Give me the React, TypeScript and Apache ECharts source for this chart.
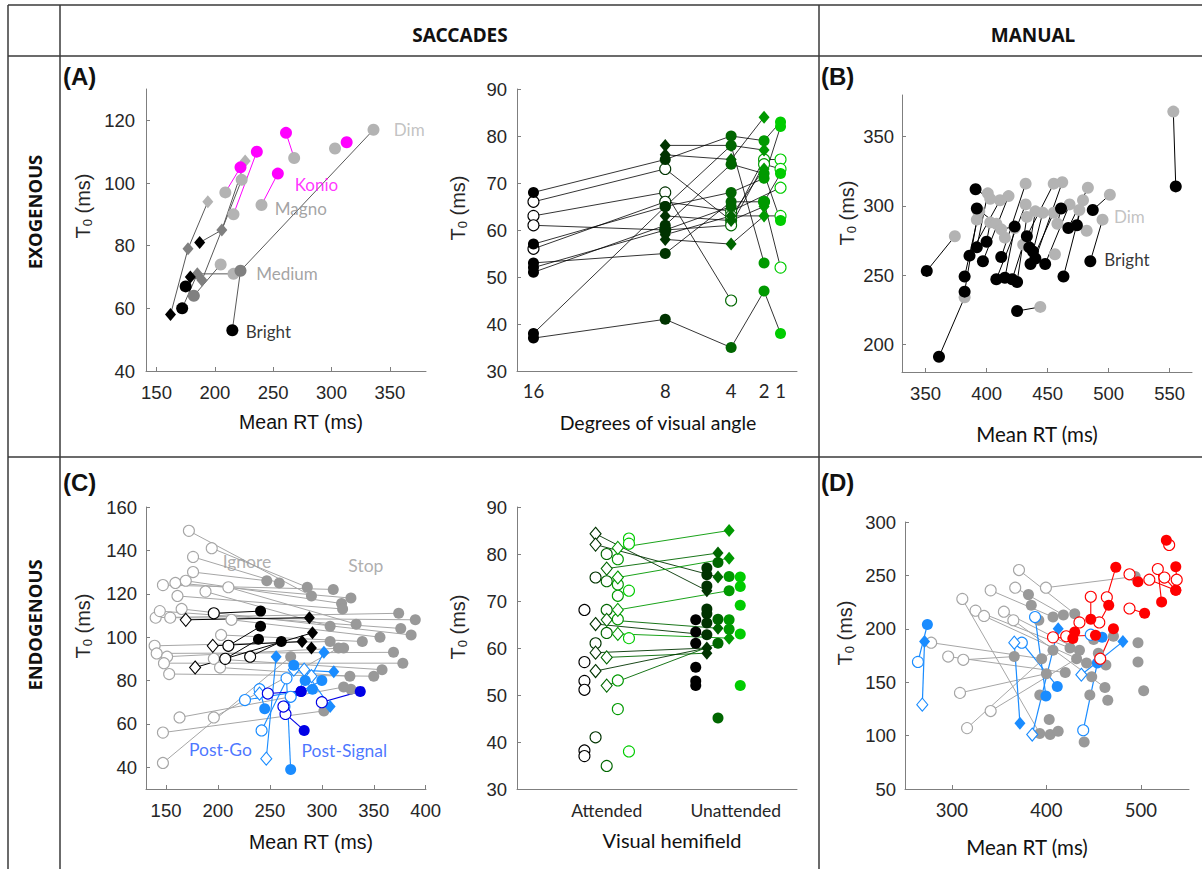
import React, { useEffect, useRef } from 'react';
import * as echarts from 'echarts';

// ---------------- Panel A (saccades, exogenous): Mean RT vs T0 ----------------
const A_brightCirc = [[215, 53], [172, 60], [175, 67]];
const A_brightDiam = [[162, 58], [179, 70], [187, 81]];
const A_mediumCirc = [[222, 72], [182, 64]];
const A_mediumDiam = [[177, 79], [206, 85], [185, 71], [189, 69]];
const A_dimCirc = [[209, 97], [216, 90], [223, 101], [205, 74], [216, 71], [240, 93], [268, 108], [303, 111], [336, 117]];
const A_dimDiam = [[194, 94], [226, 107]];
const A_konio = [[222, 105], [236, 110], [254, 103], [261, 116], [313, 113]];
const A_paths = [
  [[162, 58], [177, 79], [194, 94]],
  [[187, 81], [206, 85], [226, 107]],
  [[179, 70], [189, 69], [223, 101]],
  [[215, 53], [222, 72], [336, 117]],
  [[175, 67], [182, 64], [205, 74]],
  [[172, 60], [185, 71], [216, 71], [222, 72]],
];
const A_konioPaths = [
  [[222, 105], [209, 97]],
  [[236, 110], [216, 90]],
  [[254, 103], [240, 93]],
  [[261, 116], [268, 108]],
];

// ---------------- Panel A2: T0 by degrees of visual angle ----------------
const DEG = [16, 8, 4, 2, 1];
const A2_filled = [
  [68, 75, 80, 79, 83],
  [57, 65, 68, 71, 82],
  [53, 55, 66, 66, 72],
  [51, 61, 74, 72, 62],
  [38, 65, 78, 53, null],
  [37, 41, 35, 47, 38],
  [52, 60, 65, null, null],
];
const A2_open = [
  [66, 73, 62, 75, 75],
  [63, 68, 45, null, null],
  [61, 60, 61, 74, 73],
  [56, 66, 64, null, 69],
  [null, null, null, 66, 52],
  [null, null, 63, null, 63],
];
const A2_diam = [
  [null, 78, 78, 77, null],
  [null, 76, 75, 84, null],
  [null, 58, 57, 63, null],
  [null, 63, 62, 65, null],
  [null, 59, 63, 73, null],
];

// ---------------- Panel B (manual, exogenous) ----------------
const B_bright = [[555, 314], [351, 253], [361, 191], [382, 238], [382, 249], [392, 270], [386, 264], [397, 260], [400, 274], [412, 263], [408, 247], [415, 248], [421, 247], [425, 245], [433, 278], [435, 270], [438, 267], [440, 262], [436, 258], [448, 258], [463, 249], [467, 284], [474, 286], [487, 297], [485, 260], [425, 224], [461, 298], [391, 312], [392, 298], [423, 285]];
const B_dim = [[553, 368], [374, 278], [382, 234], [392, 290], [394, 296], [401, 309], [411, 304], [418, 307], [403, 288], [432, 316], [432, 301], [423, 284], [430, 272], [433, 292], [455, 316], [440, 296], [446, 295], [462, 317], [455, 295], [468, 301], [479, 304], [483, 313], [476, 297], [501, 308], [495, 290], [444, 227], [458, 287], [403, 305], [408, 287], [412, 283]];
const B_dimExtra = [[482, 282], [456, 265], [415, 277], [393, 296]];

// ---------------- Panel C (saccades, endogenous) ----------------
const C_ignore = [[172, 149], [194, 141], [176, 137], [176, 130], [147, 124], [159, 125], [169, 126], [161, 119], [188, 121], [210, 123], [140, 109], [154, 109], [144, 112], [165, 113], [213, 108], [203, 101], [139, 96], [141, 92.5], [151, 91], [148, 88], [153, 83], [196, 90], [202, 86], [163, 63], [196, 63], [147, 56], [147, 42]];
const C_stop = [[290, 119], [286, 123], [259, 125], [247, 126], [311, 122], [328, 118], [319, 115.5], [320, 113], [308, 105], [333, 106], [374, 111], [390, 108], [376, 104], [386, 101], [356, 100], [339, 98], [308, 98], [369, 93], [321, 95], [378, 88], [350, 82], [358, 85], [327, 82], [321, 77], [316, 95], [302, 66], [270, 91]];
const C_stopExtra = [[328, 76]];
const C_blackOpenCirc = [[196, 111], [210, 96], [207, 90], [231, 91]];
const C_blackFillCirc = [[241, 112], [241, 105], [239, 99], [261, 98]];
const C_blackOpenDiam = [[169, 108], [195, 96], [178, 86]];
const C_blackFillDiam = [[288, 109], [281, 98], [291, 102]];
const C_blackFillDiamExtra = [[290, 95]];
const C_goOpenCirc = [[226, 71], [240, 76], [242, 57], [266, 81], [264, 68], [270, 72.5]];
const C_goFillCirc = [[291, 76], [245, 67], [273, 87], [270, 39], [284, 80], [300, 80]];
const C_goOpenDiam = [[246.5, 44], [290, 82], [273, 85], [283, 85]];
const C_goFillDiam = [[256, 91], [302, 93], [311.5, 84], [308, 68]];
const C_goOpenDiamExtra = [[240, 74]];
const C_sigOpen = [[248, 74], [265, 64.6], [300, 70], [263, 68]];
const C_sigFill = [[280, 75], [283, 57], [337, 75], [280, 75]];

// ---------------- Panel C2: attended vs unattended hemifield ----------------
const C2_attOpenCirc = [
  [68.1, 57, 53, 51.1, 38.2, 37],
  [75, 61, 41],
  [80, 74.2, 68.1, 63.2, 34.9],
  [78.9, 73.5, 71.1, 66.1, 53.1, 47],
  [83.3, 82.2, 72.2, 62.1, 38],
];
const C2_attOpenDiam = [[], [84.3, 82, 65.1, 59, 55.1], [76.9, 66, 58, 52], [81.3, 75, 68.1, 63], []];
const C2_unFillCirc = [
  [66, 63.4, 61, 55.9, 53, 52],
  [77, 75.6, 73.2, 68.3, 67.3, 65.3, 62.8],
  [78.2, 66.1, 61, 45.1],
  [75.2, 72.2, 66, 64],
  [75.1, 73.1, 69.1, 63, 52],
];
const C2_unFillDiam = [[], [72.2, 60, 58.9], [80.2, 75.1, 64.2], [85, 79.1, 62.1], []];
// [attended column, attended T0, unattended column, unattended T0]
const C2_links = [
  [1, 84.3, 1, 72.2], [1, 82, 2, 75.1], [2, 76.9, 2, 80.2], [3, 81.3, 3, 85], [3, 75, 3, 79.1],
  [3, 68.1, 3, 72.2], [1, 65.1, 1, 62.8], [2, 66, 2, 64.2], [3, 63, 3, 62.1], [1, 59, 1, 60],
  [2, 58, 1, 58.9], [1, 55.1, 1, 60], [2, 52, 2, 61],
];

// ---------------- Panel D (manual, endogenous) ----------------
const D_grayOpen = [[371, 255], [367, 238.5], [341, 236], [399.5, 238.5], [311, 228], [325, 217], [334, 212], [355, 216], [365, 208], [278, 187], [296, 174], [312, 171], [308.5, 140], [341, 123], [316, 107]];
const D_grayFill = [[430, 214], [418, 213], [407, 211], [494, 249], [393, 102], [425, 182], [442.5, 168], [435, 180], [462, 145], [395, 172], [420, 159], [366, 174], [400, 158], [432, 172], [407, 180]];
const D_grayExtra = [[381, 232], [384, 222], [392, 208], [471, 193], [450, 190], [455, 177], [463, 166], [448, 155], [465, 133], [446, 138], [497, 187], [497, 169], [503, 142], [393, 138], [403, 115], [404, 101], [412.5, 104], [440, 94]];
const D_blueOpenCirc = [[264, 169], [388, 211], [374, 187], [439, 105], [447, 194.5]];
const D_blueFillCirc = [[274, 204], [399.5, 137], [411.5, 146], [454, 168], [459, 192]];
const D_blueOpenDiam = [[268.6, 129], [366, 187], [385, 101], [437, 157]];
const D_blueFillDiam = [[271, 188], [372, 111.5], [412.5, 200], [481, 188]];
const D_redOpen = [[447, 230], [435, 206], [456, 206], [407, 192], [488, 251], [464, 229.5], [518, 256], [488, 219], [457, 172], [530, 278.5], [538, 246], [525, 248], [509, 246], [421, 193]];
const D_redFill = [[447, 209], [430, 197], [466, 222], [428, 191], [497, 244], [473.5, 257.6], [522, 225], [504, 214.5], [471, 200], [527, 283], [537, 258], [537, 236], [537, 236], [452, 194]];

// ---------------- styling ----------------
const SANS = '"Liberation Sans", Arial, sans-serif';
const CAL = 'Lato, "Noto Sans", sans-serif';
const HEAD = '"Noto Sans", "Liberation Sans", sans-serif';
const GREENS = ['#000000', '#003300', '#006600', '#009900', '#00cc00'];
const AXC = '#7f7f7f';
const TXT = '#262626';

function xAx(g: number, min: number, max: number, ticks: number[], extra: any = {}) {
  return {
    type: 'value', gridIndex: g, min, max, inverse: !!extra.inverse,
    axisLine: { show: true, onZero: false, lineStyle: { color: AXC, width: 1 } },
    axisTick: { show: extra.noTick ? false : true, inside: true, length: 4, customValues: ticks, lineStyle: { color: AXC } },
    splitLine: { show: false },
    axisLabel: {
      customValues: ticks, color: TXT, fontFamily: extra.font || SANS, fontSize: extra.size || 18.5,
      margin: extra.margin || 10, formatter: extra.formatter,
    },
  };
}
function yAx(g: number, min: number, max: number, ticks: number[], extra: any = {}) {
  return {
    type: 'value', gridIndex: g, min, max,
    axisLine: { show: true, onZero: false, lineStyle: { color: AXC, width: 1 } },
    axisTick: { show: true, inside: true, length: 4, customValues: ticks, lineStyle: { color: AXC } },
    splitLine: { show: false },
    axisLabel: { customValues: ticks, color: TXT, fontFamily: SANS, fontSize: 18.5, margin: extra.margin || 9 },
  };
}
function sc(g: number, data: any[], symbol: string, fill: string, edge: string, size: any = 11) {
  return {
    type: 'scatter', xAxisIndex: g, yAxisIndex: g, data, symbol, symbolSize: size, silent: true,
    itemStyle: { color: fill, borderColor: edge, borderWidth: fill === edge ? 0 : 1.1, opacity: 1 },
  };
}
function ln(g: number, paths: number[][][], color: string, width = 1) {
  return {
    type: 'lines', coordinateSystem: 'cartesian2d', xAxisIndex: g, yAxisIndex: g, polyline: true, silent: true,
    data: paths.map((c) => ({ coords: c })), lineStyle: { color, width, opacity: 1, curveness: 0 },
  };
}
function pairs(a: number[][], b: number[][]) {
  return a.map((p, i) => [p, b[i]]);
}
function txt(g: number, x: number, y: number, text: string, color: string, size = 17) {
  return {
    type: 'scatter', xAxisIndex: g, yAxisIndex: g, symbolSize: 1, silent: true,
    itemStyle: { color: 'rgba(0,0,0,0)' }, data: [[x, y]],
    label: { show: true, position: 'right', distance: 0, formatter: text, color, fontFamily: CAL, fontSize: size },
  };
}
const DIA = [11, 13];

function buildOption() {
  const series: any[] = [];
  // ---- A ----
  series.push(ln(0, A_paths, '#595959', 1));
  series.push(ln(0, A_konioPaths, '#ff00ff', 1));
  series.push(sc(0, A_dimCirc, 'circle', '#b3b3b3', '#b3b3b3', 12));
  series.push(sc(0, A_dimDiam, 'diamond', '#b3b3b3', '#b3b3b3', DIA));
  series.push(sc(0, A_mediumCirc, 'circle', '#808080', '#808080', 12));
  series.push(sc(0, A_mediumDiam, 'diamond', '#808080', '#808080', DIA));
  series.push(sc(0, A_konio, 'circle', '#ff00ff', '#ff00ff', 12));
  series.push(sc(0, A_brightCirc, 'circle', '#000000', '#000000', 12));
  series.push(sc(0, A_brightDiam, 'diamond', '#000000', '#000000', DIA));
  series.push(txt(0, 353, 117, 'Dim', '#b3b3b3'));
  series.push(txt(0, 268, 99.5, 'Konio', '#ff00ff'));
  series.push(txt(0, 251, 92, 'Magno', '#8c8c8c'));
  series.push(txt(0, 235, 71, 'Medium', '#8c8c8c'));
  series.push(txt(0, 226, 52.6, 'Bright', '#000000'));

  // ---- A2 ----
  const rowPts = (r: (number | null)[]) => r.map((v, i) => (v == null ? null : [DEG[i], v])).filter(Boolean) as number[][];
  series.push(ln(1, [...A2_filled, ...A2_open, ...A2_diam].map(rowPts).filter((p) => p.length > 1), '#000000', 0.8));
  for (let i = 0; i < 5; i++) {
    const col = (rows: (number | null)[][]) => rows.filter((r) => r[i] != null).map((r) => [DEG[i], r[i]]);
    series.push(sc(1, col(A2_open), 'circle', '#ffffff', GREENS[i], 11));
    series.push(sc(1, col(A2_filled), 'circle', GREENS[i], GREENS[i], 11));
    series.push(sc(1, col(A2_diam), 'diamond', GREENS[i], GREENS[i], DIA));
  }

  // ---- B ----
  series.push(ln(2, pairs(B_bright, B_dim), '#000000', 1));
  series.push(sc(2, [...B_dim, ...B_dimExtra], 'circle', '#b3b3b3', '#b3b3b3', 12));
  series.push(sc(2, B_bright, 'circle', '#000000', '#000000', 12));
  series.push(txt(2, 504, 292, 'Dim', '#b3b3b3'));
  series.push(txt(2, 496, 261, 'Bright', '#000000'));

  // ---- C ----
  series.push(txt(3, 204, 134.7, 'Ignore', '#999999', 17.5));
  series.push(txt(3, 325, 133, 'Stop', '#999999', 17.5));
  series.push(ln(3, pairs(C_ignore, C_stop), '#a6a6a6', 1));
  series.push(sc(3, C_ignore, 'circle', '#ffffff', '#a6a6a6', 11));
  series.push(sc(3, [...C_stop, ...C_stopExtra], 'circle', '#999999', '#999999', 11));
  series.push(ln(3, [...pairs(C_blackOpenCirc, C_blackFillCirc), ...pairs(C_blackOpenDiam, C_blackFillDiam)], '#000000', 1));
  series.push(sc(3, C_blackOpenCirc, 'circle', '#ffffff', '#000000', 11));
  series.push(sc(3, C_blackOpenDiam, 'diamond', '#ffffff', '#000000', DIA));
  series.push(sc(3, C_blackFillCirc, 'circle', '#000000', '#000000', 11));
  series.push(sc(3, [...C_blackFillDiam, ...C_blackFillDiamExtra], 'diamond', '#000000', '#000000', DIA));
  series.push(ln(3, [...pairs(C_goOpenCirc, C_goFillCirc), ...pairs(C_goOpenDiam, C_goFillDiam)], '#1a8cff', 1.1));
  series.push(sc(3, C_goOpenCirc, 'circle', '#ffffff', '#1a8cff', 11));
  series.push(sc(3, [...C_goOpenDiam, ...C_goOpenDiamExtra], 'diamond', '#ffffff', '#1a8cff', DIA));
  series.push(sc(3, C_goFillCirc, 'circle', '#1a8cff', '#1a8cff', 11));
  series.push(sc(3, C_goFillDiam, 'diamond', '#1a8cff', '#1a8cff', DIA));
  series.push(ln(3, pairs(C_sigOpen, C_sigFill), '#0000e6', 1.1));
  series.push(sc(3, C_sigOpen, 'circle', '#ffffff', '#0000e6', 11));
  series.push(sc(3, C_sigFill, 'circle', '#0000e6', '#0000e6', 11));
  series.push(txt(3, 171.6, 48, 'Post-Go', '#1a53ff', 17.5));
  series.push(txt(3, 280, 47.7, 'Post-Signal', '#1a53ff', 17.5));

  // ---- C2 ----
  const ax = (base: number, i: number) => +(base + (i - 2) * 0.1).toFixed(2);
  series.push(...C2_links.map((l) =>
    ln(4, [[[ax(1, l[0]), l[1]], [ax(2, l[2]), l[3]]]], GREENS[l[0]], 0.9)));
  for (let i = 0; i < 5; i++) {
    series.push(sc(4, C2_attOpenCirc[i].map((v) => [ax(1, i), v]), 'circle', '#ffffff', GREENS[i], 11));
    series.push(sc(4, C2_attOpenDiam[i].map((v) => [ax(1, i), v]), 'diamond', '#ffffff', GREENS[i], DIA));
    series.push(sc(4, C2_unFillCirc[i].map((v) => [ax(2, i), v]), 'circle', GREENS[i], GREENS[i], 11));
    series.push(sc(4, C2_unFillDiam[i].map((v) => [ax(2, i), v]), 'diamond', GREENS[i], GREENS[i], DIA));
  }

  // ---- D ----
  series.push(ln(5, pairs(D_grayOpen, D_grayFill), '#a6a6a6', 1));
  series.push(sc(5, D_grayOpen, 'circle', '#ffffff', '#a6a6a6', 11));
  series.push(sc(5, [...D_grayFill, ...D_grayExtra], 'circle', '#999999', '#999999', 11));
  series.push(ln(5, [...pairs(D_blueOpenCirc, D_blueFillCirc), ...pairs(D_blueOpenDiam, D_blueFillDiam)], '#1a8cff', 1.2));
  series.push(sc(5, D_blueOpenCirc, 'circle', '#ffffff', '#1a8cff', 11));
  series.push(sc(5, D_blueOpenDiam, 'diamond', '#ffffff', '#1a8cff', DIA));
  series.push(sc(5, D_blueFillCirc, 'circle', '#1a8cff', '#1a8cff', 11));
  series.push(sc(5, D_blueFillDiam, 'diamond', '#1a8cff', '#1a8cff', DIA));
  series.push(ln(5, pairs(D_redOpen, D_redFill), '#ff0000', 1.1));
  series.push(sc(5, D_redOpen, 'circle', '#ffffff', '#ff0000', 11));
  series.push(sc(5, D_redFill, 'circle', '#ff0000', '#ff0000', 11));

  const grid = (left: number, top: number, width: number, height: number) => ({
    left, top, width, height, containLabel: false, outerBoundsMode: 'none',
  });

  const tl = (x1: number, y1: number, x2: number, y2: number) => ({
    type: 'line', shape: { x1, y1, x2, y2 }, style: { stroke: '#3a3a3a', lineWidth: 1.5 }, silent: true,
  });
  const t = (x: number, y: number, text: string, font: string, size: number, weight = 'normal', rot = 0, align = 'center') => ({
    type: 'text', x, y, rotation: rot, silent: true,
    style: { text, fill: '#111111', fontFamily: font, fontSize: size, fontWeight: weight, textAlign: align, textVerticalAlign: 'middle' },
  });
  const ty = (x: number, y: number) => ({
    type: 'text', x, y, rotation: Math.PI / 2, silent: true,
    style: {
      text: 'T{s|0} (ms)', fill: TXT, fontFamily: SANS, fontSize: 20, textAlign: 'center', textVerticalAlign: 'middle',
      rich: { s: { fontFamily: SANS, fontSize: 13, fill: TXT, padding: [9, 0, 0, 0] } },
    },
  });

  return {
    animation: false,
    backgroundColor: '#ffffff',
    grid: [
      grid(146, 89, 280, 282),
      grid(517, 89, 280, 282),
      grid(902, 95, 290, 277),
      grid(146, 507, 280, 282),
      grid(517, 507, 280, 282),
      grid(905, 522, 284, 267),
    ],
    xAxis: [
      xAx(0, 141, 381, [150, 200, 250, 300, 350], { margin: 12 }),
      xAx(1, 0, 17, [16, 8, 4, 2, 1], { inverse: true, noTick: true, font: CAL, size: 18.5, margin: 10 }),
      xAx(2, 330.7, 568.3, [350, 400, 450, 500, 550], { margin: 12 }),
      xAx(3, 130.7, 400.3, [150, 200, 250, 300, 350, 400], { margin: 12 }),
      xAx(4, 0.194, 2.71, [1, 2.16], {
        noTick: true, font: CAL, size: 17.5, margin: 12,
        formatter: (v: number) => (v < 1.5 ? 'Attended' : 'Unattended'),
      }),
      xAx(5, 250.3, 551, [300, 400, 500], { font: CAL, size: 18.5, margin: 11 }),
    ],
    yAxis: [
      yAx(0, 40, 130, [40, 60, 80, 100, 120], { margin: 11 }),
      yAx(1, 30, 90, [30, 40, 50, 60, 70, 80, 90], { margin: 10 }),
      yAx(2, 180, 380, [200, 250, 300, 350], { margin: 8 }),
      yAx(3, 30, 160, [40, 60, 80, 100, 120, 140, 160], { margin: 9 }),
      yAx(4, 30, 90, [30, 40, 50, 60, 70, 80, 90], { margin: 10 }),
      yAx(5, 50, 300, [50, 100, 150, 200, 250, 300], { margin: 9 }),
    ],
    series,
    graphic: [
      tl(8, 5, 1202, 5), tl(8, 56, 1202, 56), tl(8, 457, 1202, 457),
      tl(8, 5, 8, 869), tl(60, 5, 60, 869), tl(819, 5, 819, 869),
      t(460, 35, 'SACCADES', HEAD, 19, 'bold'),
      t(1033, 35, 'MANUAL', HEAD, 19, 'bold'),
      t(34, 212, 'EXOGENOUS', HEAD, 18.5, 'bold', Math.PI / 2),
      t(34, 625, 'ENDOGENOUS', HEAD, 18.5, 'bold', Math.PI / 2),
      t(63, 76, '(A)', SANS, 24, 'bold', 0, 'left'),
      t(821, 76, '(B)', SANS, 24, 'bold', 0, 'left'),
      t(63, 482, '(C)', SANS, 24, 'bold', 0, 'left'),
      t(821, 482, '(D)', SANS, 24, 'bold', 0, 'left'),
      t(301, 422, 'Mean RT (ms)', SANS, 19.5),
      t(658, 422, 'Degrees of visual angle', CAL, 19.5),
      t(1037, 434, 'Mean RT (ms)', CAL, 20.5),
      t(311, 842, 'Mean RT (ms)', SANS, 19.5),
      t(672, 840, 'Visual hemifield', CAL, 20),
      t(1027, 847, 'Mean RT (ms)', CAL, 20.5),
      ty(83, 206), ty(458, 208), ty(847, 213), ty(83, 626), ty(458, 627), ty(845, 633),
    ],
  };
}

export default function App() {
  const ref = useRef<HTMLDivElement>(null);
  useEffect(() => {
    const chart = echarts.init(ref.current as HTMLDivElement, null, { renderer: 'svg' });
    chart.setOption(buildOption() as any);
    return () => chart.dispose();
  }, []);
  return (
    <div
      ref={ref}
      style={{ position: 'absolute', left: 0, top: 0, width: 1202, height: 869, background: '#ffffff' }}
    />
  );
}
